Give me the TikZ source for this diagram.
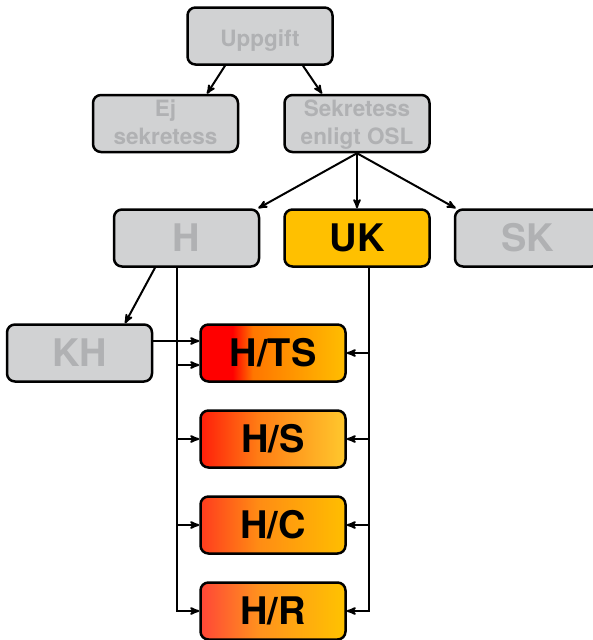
\documentclass[tikz,border=0pt]{standalone}
\usepackage{fontspec}
\setmainfont{TeX Gyre Heros}
\usetikzlibrary{arrows}

\definecolor{boxgray}{RGB}{209,210,211}
\definecolor{textgray}{RGB}{176,177,179}
\definecolor{ukfill}{RGB}{255,192,0}
\definecolor{htsorange}{RGB}{255,118,0}
\definecolor{htsyellow}{RGB}{255,190,0}
\definecolor{hsred}{RGB}{255,30,10}
\definecolor{hsorange}{RGB}{255,125,20}
\definecolor{hsyellow}{RGB}{255,200,45}
\definecolor{hcred}{RGB}{255,60,30}
\definecolor{hcorange}{RGB}{255,140,20}
\definecolor{hcyellow}{RGB}{255,190,0}
\definecolor{hrred}{RGB}{255,70,55}
\definecolor{hrorange}{RGB}{255,145,30}
\definecolor{hryellow}{RGB}{255,195,0}

\pgfdeclarehorizontalshading{htsshade}{100bp}{color(0bp)=(red); color(25bp)=(red); color(36bp)=(red); color(43bp)=(htsorange); color(75bp)=(htsyellow); color(100bp)=(htsyellow)}
\pgfdeclarehorizontalshading{hsshade}{100bp}{color(0bp)=(hsred); color(25bp)=(hsred); color(45bp)=(hsorange); color(75bp)=(hsyellow); color(100bp)=(hsyellow)}
\pgfdeclarehorizontalshading{hcshade}{100bp}{color(0bp)=(hcred); color(25bp)=(hcred); color(45bp)=(hcorange); color(75bp)=(hcyellow); color(100bp)=(hcyellow)}
\pgfdeclarehorizontalshading{hrshade}{100bp}{color(0bp)=(hrred); color(25bp)=(hrred); color(45bp)=(hrorange); color(75bp)=(hryellow); color(100bp)=(hryellow)}

\tikzset{
  box/.style={draw, line width=2.5pt, rounded corners=8pt, minimum width=145pt,
    minimum height=57pt, inner sep=0pt, align=center,
    font=\bfseries\fontsize{22.5}{28}\selectfont, text height=21pt, text depth=0pt},
  twoline/.style={text height=44pt, text depth=1.5pt},
  greybox/.style={box, fill=boxgray, text=textgray},
  bigtext/.style={font=\bfseries\fontsize{38}{40}\selectfont, text height=27pt, text depth=0pt},
  conn/.style={->, >=stealth', line width=2pt},
}

\begin{document}
\begin{tikzpicture}[x=1pt,y=-1pt]
 \clip (0,0) rectangle (593,640);
 % top levels
 \node[greybox] (upp) at (260,36) {Uppgift};
 \node[greybox,twoline] (ej) at (165.5,123.5) {Ej\\sekretess};
 \node[greybox,twoline] (sek) at (357,123.5) {Sekretess\\enligt OSL};
 % middle row
 \node[greybox,bigtext] (h) at (186.5,238) {H};
 \node[box,bigtext,fill=ukfill] (uk) at (357,238) {UK};
 \node[greybox,bigtext] (sk) at (527.5,238) {SK};
 \node[greybox,bigtext] (kh) at (79.5,353) {KH};
 % graded boxes
 \node[box,bigtext,shading=htsshade] (hts) at (273,353) {H/TS};
 \node[box,bigtext,shading=hsshade] (hs) at (273,439) {H/S};
 \node[box,bigtext,shading=hcshade] (hc) at (273,525) {H/C};
 \node[box,bigtext,shading=hrshade] (hr) at (273,611) {H/R};
 % tree arrows
 \draw[conn] ([xshift=-35pt]upp.south) -- ([xshift=41.5pt]ej.north);
 \draw[conn] ([xshift=43pt]upp.south) -- ([xshift=-35pt]sek.north);
 \draw[conn] (sek.south) -- ([xshift=-2pt]h.north east);
 \draw[conn] (sek.south) -- (uk.north);
 \draw[conn] (sek.south) -- ([xshift=2pt]sk.north west);
 \draw[conn] ([xshift=-31.5pt]h.south) -- ([xshift=45.5pt]kh.north);
 \draw[conn] ([yshift=12pt]kh.east) -- ([yshift=12pt]hts.west);
 % line from H
 \coordinate (hline) at ([xshift=-10pt]h.south);
 \coordinate (htsin) at ([yshift=-12pt]hts.west);
 \draw[conn] (hline) |- (hr.west);
 \draw[conn] (hline |- htsin) -- (htsin);
 \draw[conn] (hline |- hs.west) -- (hs.west);
 \draw[conn] (hline |- hc.west) -- (hc.west);
 % line from UK
 \coordinate (ukline) at ([xshift=12pt]uk.south);
 \draw[conn] (ukline) |- (hr.east);
 \draw[conn] (ukline |- hts.east) -- (hts.east);
 \draw[conn] (ukline |- hs.east) -- (hs.east);
 \draw[conn] (ukline |- hc.east) -- (hc.east);
\end{tikzpicture}
\end{document}
